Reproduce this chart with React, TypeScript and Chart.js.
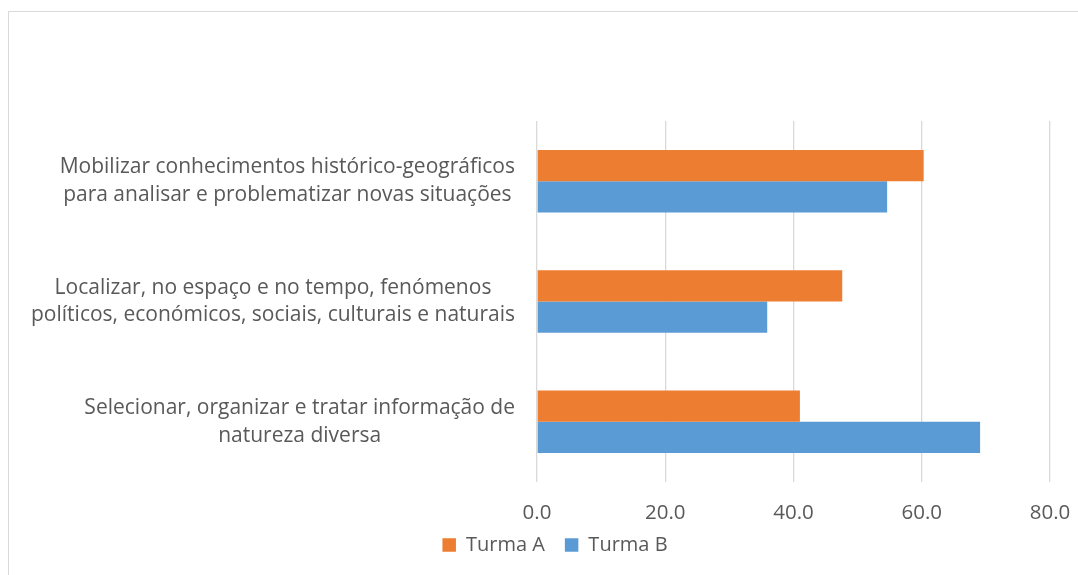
import React, { useEffect, useRef } from "react";
import { Chart, registerables } from "chart.js";

Chart.register(...registerables);

const categories: string[][] = [
  ["Mobilizar conhecimentos histórico-geográficos", "para analisar e problematizar novas situações"],
  ["Localizar, no espaço e no tempo, fenómenos", "políticos, económicos, sociais, culturais e naturais"],
  ["Selecionar, organizar e tratar informação de", "natureza diversa"],
];
const seriesNames = ["Turma A", "Turma B"];
const turmaA = [60.3, 47.6, 41.0];
const turmaB = [54.6, 35.9, 69.1];
const xTicks = [0, 20, 40, 60, 80];

const FONT = "'Open Sans', 'Liberation Sans', sans-serif";
const TEXT = "#595959";

const labelPlugin = {
  id: "axisLabels",
  afterDraw(chart: any) {
    const ctx = chart.ctx as CanvasRenderingContext2D;
    const yScale = chart.scales.y;
    const xScale = chart.scales.x;
    const area = chart.chartArea;
    ctx.save();
    ctx.fillStyle = TEXT;
    ctx.textAlign = "center";
    ctx.textBaseline = "middle";
    // category labels (multi-line, each block right-aligned, lines centred)
    ctx.font = `21px ${FONT}`;
    const right = area.left - 22;
    const labels = chart.data.labels as string[][];
    labels.forEach((lines, i) => {
      const y = yScale.getPixelForTick(i);
      const w = Math.max(...lines.map((l) => ctx.measureText(l).width));
      const cx = right - w / 2;
      lines.forEach((l, j) => {
        ctx.fillText(l, cx, y + (j - (lines.length - 1) / 2) * 27.5);
      });
    });
    // value axis tick labels
    ctx.font = `20.5px ${FONT}`;
    xScale.ticks.forEach((t: any) => {
      ctx.fillText(Number(t.value).toFixed(1), xScale.getPixelForValue(t.value), area.bottom + 31.5);
    });
    ctx.restore();
  },
};

export default function App() {
  const ref = useRef<HTMLCanvasElement>(null);
  useEffect(() => {
    if (!ref.current) return;
    const chart = new Chart(ref.current, {
      type: "bar",
      data: {
        labels: categories,
        datasets: [
          { label: seriesNames[0], data: turmaA, backgroundColor: "#ED7D31", borderWidth: 0 },
          { label: seriesNames[1], data: turmaB, backgroundColor: "#5B9BD5", borderWidth: 0 },
        ],
      },
      options: {
        indexAxis: "y",
        animation: false,
        responsive: false,
        maintainAspectRatio: false,
        layout: { padding: { top: 121, right: 28, left: 60, bottom: 10 } },
        datasets: { bar: { barPercentage: 1, categoryPercentage: 0.52 } },
        scales: {
          x: {
            min: xTicks[0],
            max: xTicks[xTicks.length - 1],
            afterBuildTicks: (s: any) => {
              s.ticks = xTicks.map((v) => ({ value: v }));
            },
            afterFit: (s: any) => {
              s.height = 33;
              s.paddingRight = 0;
              s.paddingLeft = 0;
            },
            grid: { color: "#d9d9d9", lineWidth: 1.3, drawTicks: false },
            border: { display: false },
            ticks: { display: false },
          },
          y: {
            grid: { display: false },
            border: { display: false },
            ticks: { display: false },
            afterFit: (s: any) => {
              s.width = 477;
            },
          },
        },
        plugins: {
          legend: {
            position: "bottom",
            labels: {
              boxWidth: 13.5,
              boxHeight: 13.5,
              padding: 20,
              color: TEXT,
              font: { family: FONT, size: 20 },
            },
          },
          tooltip: { enabled: false },
        },
      },
      plugins: [labelPlugin],
    });
    return () => chart.destroy();
  }, []);
  return (
    <div style={{ position: "fixed", left: 0, top: 0, width: 1078, height: 575, background: "#fff" }}>
      <div
        style={{
          position: "absolute",
          left: 8,
          top: 11,
          width: 1200,
          height: 700,
          borderLeft: "1.5px solid #d9d9d9",
          borderTop: "1.5px solid #d9d9d9",
        }}
      />
      <canvas ref={ref} width={1078} height={575} style={{ position: "absolute", left: 0, top: 0 }} />
    </div>
  );
}
